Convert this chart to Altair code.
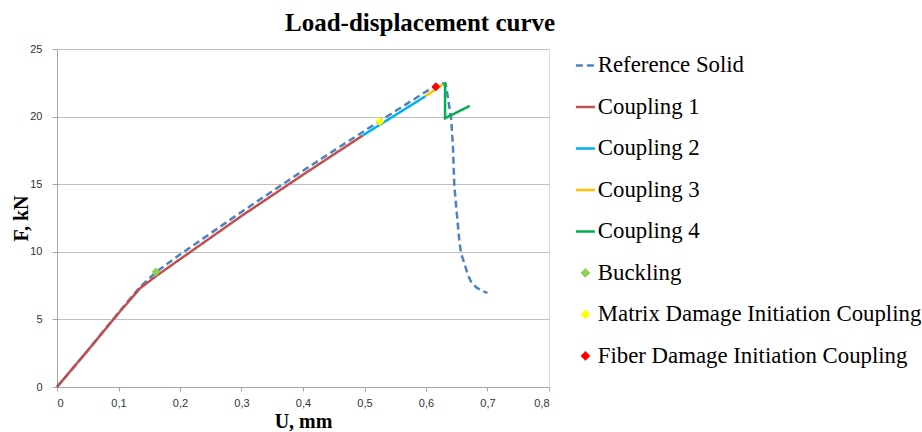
import altair as alt
import pandas as pd

series_names = ["Reference Solid", "Coupling 1", "Coupling 2", "Coupling 3", "Coupling 4",
                "Buckling", "Matrix Damage Initiation Coupling", "Fiber Damage Initiation Coupling"]
series_colors = ["#4F81BD", "#C0504D", "#00B0F0", "#FFC000", "#00B050",
                 "#92D050", "#FFFF00", "#FF0000"]

ref_u = [0, 0.05, 0.1, 0.135, 0.161, 0.2, 0.3, 0.4, 0.5, 0.6, 0.625, 0.632, 0.636, 0.641,
         0.644, 0.646, 0.648, 0.651, 0.654, 0.657, 0.663, 0.668, 0.674, 0.683, 0.692, 0.7]
ref_f = [0, 2.7, 5.5, 7.4, 8.5, 9.8, 12.95, 16.0, 18.95, 21.85, 22.5, 22.4, 21.3, 19.8,
         17.6, 14.9, 13.9, 12.4, 10.9, 9.9, 9.06, 8.3, 7.7, 7.33, 7.09, 6.96]

c1_u = [0, 0.05, 0.1, 0.135, 0.161, 0.2, 0.3, 0.4, 0.497]
c1_f = [0, 2.7, 5.45, 7.3, 8.2, 9.45, 12.65, 15.7, 18.6]

c2_u = [0.497, 0.525, 0.599]
c2_f = [18.6, 19.4, 21.5]

c3_u = [0.599, 0.628]
c3_f = [21.5, 22.4]

c4_u = [0.628, 0.631, 0.631, 0.671]
c4_f = [22.4, 22.45, 19.88, 20.79]

marker_names = ["Buckling", "Matrix Damage Initiation Coupling", "Fiber Damage Initiation Coupling"]
marker_u = [0.161, 0.525, 0.616]
marker_f = [8.52, 19.63, 22.21]

x_ticks = [0, 0.1, 0.2, 0.3, 0.4, 0.5, 0.6, 0.7, 0.8]
y_ticks = [0, 5, 10, 15, 20, 25]

rows = []
for name, us, fs in [("Reference Solid", ref_u, ref_f), ("Coupling 1", c1_u, c1_f),
                     ("Coupling 2", c2_u, c2_f), ("Coupling 3", c3_u, c3_f),
                     ("Coupling 4", c4_u, c4_f)]:
    for i, (u, f) in enumerate(zip(us, fs)):
        rows.append({"series": name, "u": u, "f": f, "ord": i})
lines_df = pd.DataFrame(rows)
markers_df = pd.DataFrame({"series": marker_names, "u": marker_u, "f": marker_f})

color_scale = alt.Scale(domain=series_names, range=series_colors)
dash_scale = alt.Scale(domain=series_names,
                       range=[[7, 4], [1, 0], [1, 0], [1, 0], [1, 0], [1, 0], [1, 0], [1, 0]])
shape_scale = alt.Scale(domain=series_names, range=["stroke"] * 5 + ["diamond"] * 3)
size_scale = alt.Scale(type="ordinal", domain=series_names, range=[361] * 5 + [78] * 3)
width_scale = alt.Scale(type="ordinal", domain=series_names, range=[2.5] * 5 + [1] * 3)

legend = alt.Legend(title=None, orient="none", legendX=517, legendY=5,
                    labelFont="Liberation Serif", labelFontSize=22.8, labelColor="black",
                    labelLimit=500, rowPadding=17.5, labelOffset=1,
                    padding=0)

x_enc = alt.X("u:Q", scale=alt.Scale(domain=[0, 0.8], nice=False),
              axis=alt.Axis(values=x_ticks, grid=False, title="U, mm",
                            labelExpr="datum.value == 0 ? '0' : replace(format(datum.value, '.1f'), '.', ',')",
                            labelFont="Liberation Sans", labelFontSize=11, labelColor="#333333",
                            labelPadding=6, tickSize=4, tickColor="#A6A6A6",
                            domainColor="#A6A6A6",
                            titleFont="Liberation Serif", titleFontSize=20, titleFontWeight="bold",
                            titleColor="black", titleY=40, titleBaseline="alphabetic"))
y_enc = alt.Y("f:Q", scale=alt.Scale(domain=[0, 25], nice=False),
              axis=alt.Axis(values=y_ticks, grid=True, gridColor="#BFBFBF", title="F, kN",
                            labelFont="Liberation Sans", labelFontSize=11, labelColor="#333333",
                            labelPadding=10, tickSize=5, tickColor="#A6A6A6",
                            domainColor="#A6A6A6",
                            titleFont="Liberation Serif", titleFontSize=20, titleFontWeight="bold",
                            titleColor="black", titleX=-30, titleY=169, titleBaseline="alphabetic"))

lines = alt.Chart(lines_df).mark_line().encode(
    x=x_enc, y=y_enc,
    color=alt.Color("series:N", scale=color_scale, legend=legend),
    strokeDash=alt.StrokeDash("series:N", scale=dash_scale, legend=legend),
    strokeWidth=alt.StrokeWidth("series:N", scale=width_scale, legend=legend),
    order="ord:Q",
)

points = alt.Chart(markers_df).mark_point(filled=True, opacity=1).encode(
    x=x_enc, y=y_enc,
    color=alt.Color("series:N", scale=color_scale, legend=legend),
    shape=alt.Shape("series:N", scale=shape_scale, legend=legend),
    size=alt.Size("series:N", scale=size_scale, legend=legend),
)

chart = alt.layer(lines, points).properties(
    width=492, height=338,
    title=alt.TitleParams("Load-displacement curve", font="Liberation Serif", fontSize=25,
                          fontWeight="bold", color="black", anchor="start", frame="group",
                          dx=228, dy=30, offset=17, baseline="alphabetic"),
    autosize=alt.AutoSizeParams(type="none"),
    padding={"left": 57, "top": 49, "right": 373, "bottom": 45},
).configure_view(stroke=None).configure(background="white")

chart.save("out.html", embed_options={"renderer": "svg", "actions": False})
